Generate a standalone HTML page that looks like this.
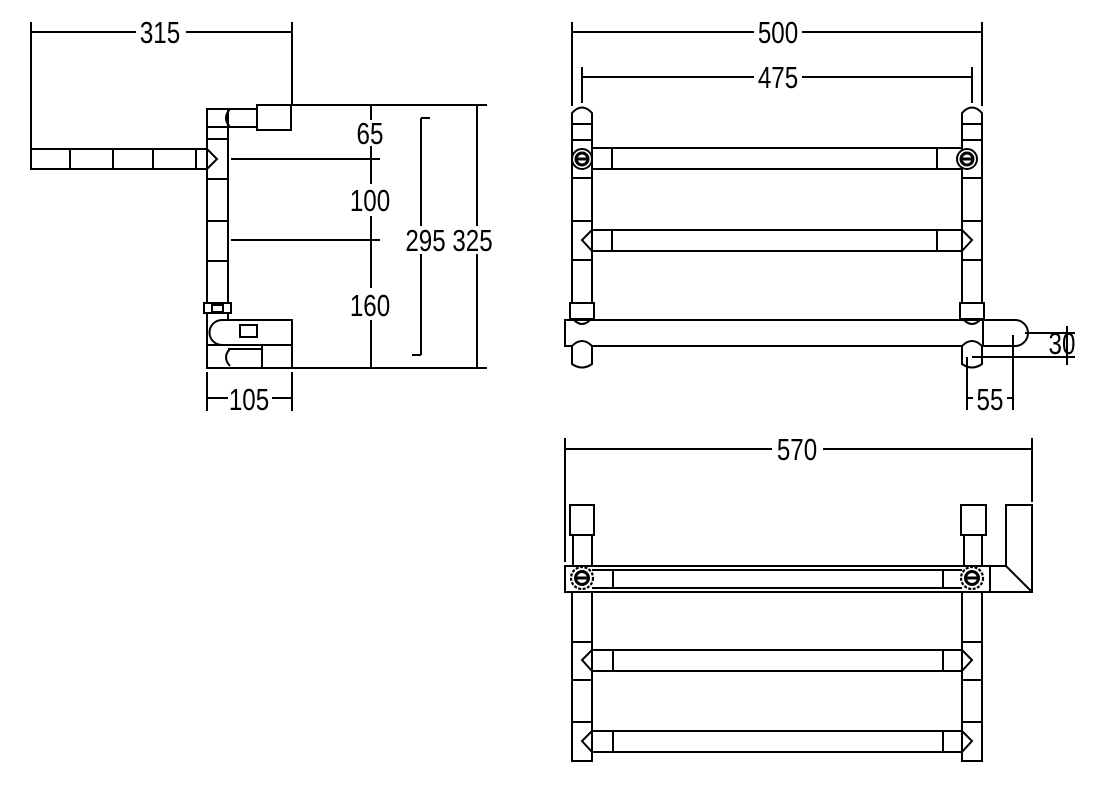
<!DOCTYPE html>
<html><head><meta charset="utf-8"><style>
html,body{margin:0;padding:0;background:#fff;}
svg{display:block;}
text{font-family:"Liberation Sans Narrow","Liberation Sans",sans-serif;font-size:31px;fill:#000;}
</style></head><body>
<svg width="1105" height="788" viewBox="0 0 1105 788" xmlns="http://www.w3.org/2000/svg">
<rect width="1105" height="788" fill="#fff"/>
<g stroke="#000" stroke-width="2" fill="none">
<!-- ===== LEFT SIDE VIEW ===== -->
<line x1="31" y1="22" x2="31" y2="148"/>
<line x1="292" y1="22" x2="292" y2="104"/>
<line x1="31" y1="32" x2="136" y2="32"/>
<line x1="186" y1="32" x2="292" y2="32"/>
<rect x="207" y="109" width="50" height="18" fill="#fff"/>
<rect x="257" y="105" width="34" height="25" fill="#fff"/>
<rect x="207" y="109" width="21" height="259" fill="#fff"/>
<path d="M230 109 Q222 118 230 127"/>
<line x1="207" y1="127" x2="228" y2="127"/>
<line x1="207" y1="139" x2="228" y2="139"/>
<line x1="207" y1="179" x2="228" y2="179"/>
<line x1="207" y1="221" x2="228" y2="221"/>
<line x1="207" y1="261" x2="228" y2="261"/>
<rect x="31" y="149" width="176" height="20" fill="#fff"/>
<line x1="70" y1="149" x2="70" y2="169"/>
<line x1="113" y1="149" x2="113" y2="169"/>
<line x1="153" y1="149" x2="153" y2="169"/>
<line x1="196" y1="149" x2="196" y2="169"/>
<path d="M207 149 L217 159 L207 169"/>
<line x1="292" y1="105" x2="487" y2="105"/>
<line x1="231" y1="159" x2="380" y2="159"/>
<line x1="231" y1="240" x2="380" y2="240"/>
<line x1="292" y1="368" x2="487" y2="368"/>
<line x1="371" y1="105" x2="371" y2="120"/>
<line x1="371" y1="146" x2="371" y2="184"/>
<line x1="371" y1="216" x2="371" y2="288"/>
<line x1="371" y1="320" x2="371" y2="368"/>
<line x1="421" y1="118" x2="421" y2="226"/>
<line x1="421" y1="254" x2="421" y2="355"/>
<line x1="421" y1="118" x2="430" y2="118"/>
<line x1="412" y1="355" x2="421" y2="355"/>
<line x1="477" y1="105" x2="477" y2="226"/>
<line x1="477" y1="254" x2="477" y2="368"/>
<rect x="204" y="303" width="27" height="10" fill="#fff"/>
<rect x="212" y="305" width="11" height="7"/>
<path d="M222 320 L292 320 L292 345 L222 345 A12.5 12.5 0 0 1 222 320 Z" fill="#fff"/>
<rect x="240" y="325" width="17" height="12"/>
<rect x="207" y="345" width="55" height="23" fill="#fff"/>
<rect x="262" y="345" width="30" height="23" fill="#fff"/>
<path d="M230 349 Q222 357 230 366"/>
<line x1="228" y1="349" x2="262" y2="349"/>
<line x1="207" y1="372" x2="207" y2="411"/>
<line x1="292" y1="372" x2="292" y2="411"/>
<line x1="207" y1="398" x2="228" y2="398"/>
<line x1="272" y1="398" x2="292" y2="398"/>

<!-- ===== TOP RIGHT FRONT VIEW ===== -->
<line x1="572" y1="22" x2="572" y2="106"/>
<line x1="982" y1="22" x2="982" y2="106"/>
<line x1="572" y1="32" x2="754" y2="32"/>
<line x1="802" y1="32" x2="982" y2="32"/>
<line x1="582" y1="67" x2="582" y2="103"/>
<line x1="972" y1="67" x2="972" y2="103"/>
<line x1="582" y1="77" x2="754" y2="77"/>
<line x1="802" y1="77" x2="972" y2="77"/>
<rect x="572" y="120" width="20" height="185" fill="#fff"/>
<rect x="962" y="120" width="20" height="185" fill="#fff"/>
<path d="M572 124 L572 113 Q582 102 592 113 L592 124 Z" fill="#fff"/>
<path d="M962 124 L962 113 Q972 102 982 113 L982 124 Z" fill="#fff"/>
<line x1="572" y1="140" x2="592" y2="140"/><line x1="962" y1="140" x2="982" y2="140"/>
<line x1="572" y1="178" x2="592" y2="178"/><line x1="962" y1="178" x2="982" y2="178"/>
<line x1="572" y1="221" x2="592" y2="221"/><line x1="962" y1="221" x2="982" y2="221"/>
<line x1="572" y1="260" x2="592" y2="260"/><line x1="962" y1="260" x2="982" y2="260"/>
<rect x="592" y="148" width="370" height="21" fill="#fff"/>
<line x1="612" y1="148" x2="612" y2="169"/>
<line x1="937" y1="148" x2="937" y2="169"/>
<circle cx="582" cy="159" r="10" fill="#fff" stroke-width="2"/>
<circle cx="582" cy="159" r="6" stroke-width="3"/>
<line x1="577" y1="159" x2="587" y2="159" stroke-width="3"/>
<circle cx="967" cy="159" r="10" fill="#fff" stroke-width="2"/>
<circle cx="967" cy="159" r="6" stroke-width="3"/>
<line x1="962" y1="159" x2="972" y2="159" stroke-width="3"/>
<rect x="592" y="230" width="370" height="21" fill="#fff"/>
<line x1="612" y1="230" x2="612" y2="251"/>
<line x1="937" y1="230" x2="937" y2="251"/>
<path d="M592 230 L582 240 L592 251"/>
<path d="M962 230 L972 240 L962 251"/>
<rect x="570" y="303" width="24" height="16" fill="#fff"/>
<rect x="960" y="303" width="24" height="16" fill="#fff"/>
<rect x="565" y="320" width="418" height="26" fill="#fff"/>
<path d="M983 320 L1015 320 A13 13 0 0 1 1015 346 L983 346"/>
<path d="M574 320 Q582 328 590 320"/>
<path d="M964 320 Q972 328 980 320"/>
<path d="M572 346 Q582 336 592 346 L592 364 Q582 371 572 364 Z" fill="#fff"/>
<path d="M962 346 Q972 336 982 346 L982 364 Q972 371 962 364 Z" fill="#fff"/>
<line x1="1025" y1="333" x2="1075" y2="333"/>
<line x1="972" y1="357" x2="1075" y2="357"/>
<line x1="1067" y1="326" x2="1067" y2="365"/>
<line x1="967" y1="357" x2="967" y2="410"/>
<line x1="1013" y1="335" x2="1013" y2="410"/>
<line x1="967" y1="398" x2="973" y2="398"/>
<line x1="1007" y1="398" x2="1013" y2="398"/>

<!-- ===== BOTTOM VIEW ===== -->
<line x1="565" y1="438" x2="565" y2="562"/>
<line x1="1032" y1="438" x2="1032" y2="502"/>
<line x1="565" y1="449" x2="772" y2="449"/>
<line x1="823" y1="449" x2="1032" y2="449"/>
<rect x="570" y="505" width="24" height="30" fill="#fff"/>
<rect x="961" y="505" width="25" height="30" fill="#fff"/>
<rect x="573" y="535" width="19" height="32" fill="#fff"/>
<rect x="964" y="535" width="18" height="32" fill="#fff"/>
<rect x="572" y="590" width="20" height="171" fill="#fff"/>
<rect x="962" y="590" width="20" height="171" fill="#fff"/>
<line x1="572" y1="642" x2="592" y2="642"/><line x1="962" y1="642" x2="982" y2="642"/>
<line x1="572" y1="680" x2="592" y2="680"/><line x1="962" y1="680" x2="982" y2="680"/>
<line x1="572" y1="722" x2="592" y2="722"/><line x1="962" y1="722" x2="982" y2="722"/>
<rect x="565" y="566" width="425" height="26" fill="#fff"/>
<line x1="592" y1="570" x2="962" y2="570"/>
<line x1="592" y1="588" x2="962" y2="588"/>
<line x1="613" y1="570" x2="613" y2="588"/>
<line x1="943" y1="570" x2="943" y2="588"/>
<path d="M990 566 L1006 566 L1006 505 L1032 505 L1032 592 L990 592"/>
<line x1="1006" y1="566" x2="1032" y2="592"/>
<circle cx="582" cy="578" r="11" fill="#fff" stroke-width="2.2" stroke-dasharray="3 1.5"/>
<circle cx="582" cy="578" r="6.5" stroke-width="3"/>
<line x1="576" y1="578" x2="588" y2="578" stroke-width="3"/>
<circle cx="972" cy="578" r="11" fill="#fff" stroke-width="2.2" stroke-dasharray="3 1.5"/>
<circle cx="972" cy="578" r="6.5" stroke-width="3"/>
<line x1="966" y1="578" x2="978" y2="578" stroke-width="3"/>
<rect x="592" y="650" width="370" height="21" fill="#fff"/>
<line x1="613" y1="650" x2="613" y2="671"/>
<line x1="943" y1="650" x2="943" y2="671"/>
<path d="M592 650 L582 660 L592 671"/>
<path d="M962 650 L972 660 L962 671"/>
<rect x="592" y="731" width="370" height="21" fill="#fff"/>
<line x1="613" y1="731" x2="613" y2="752"/>
<line x1="943" y1="731" x2="943" y2="752"/>
<path d="M592 731 L582 741 L592 752"/>
<path d="M962 731 L972 741 L962 752"/>
</g>
<g text-anchor="middle">
<text transform="translate(160,43) scale(0.78,1)">315</text>
<text transform="translate(370,144) scale(0.78,1)">65</text>
<text transform="translate(370,211) scale(0.78,1)">100</text>
<text transform="translate(370,316) scale(0.78,1)">160</text>
<text transform="translate(449,251) scale(0.78,1)">295 325</text>
<text transform="translate(249,410) scale(0.78,1)">105</text>
<text transform="translate(778,43) scale(0.78,1)">500</text>
<text transform="translate(778,88) scale(0.78,1)">475</text>
<text transform="translate(1062,354) scale(0.78,1)">30</text>
<text transform="translate(990,410) scale(0.78,1)">55</text>
<text transform="translate(797,460) scale(0.78,1)">570</text>
</g>
</svg>
</body></html>
